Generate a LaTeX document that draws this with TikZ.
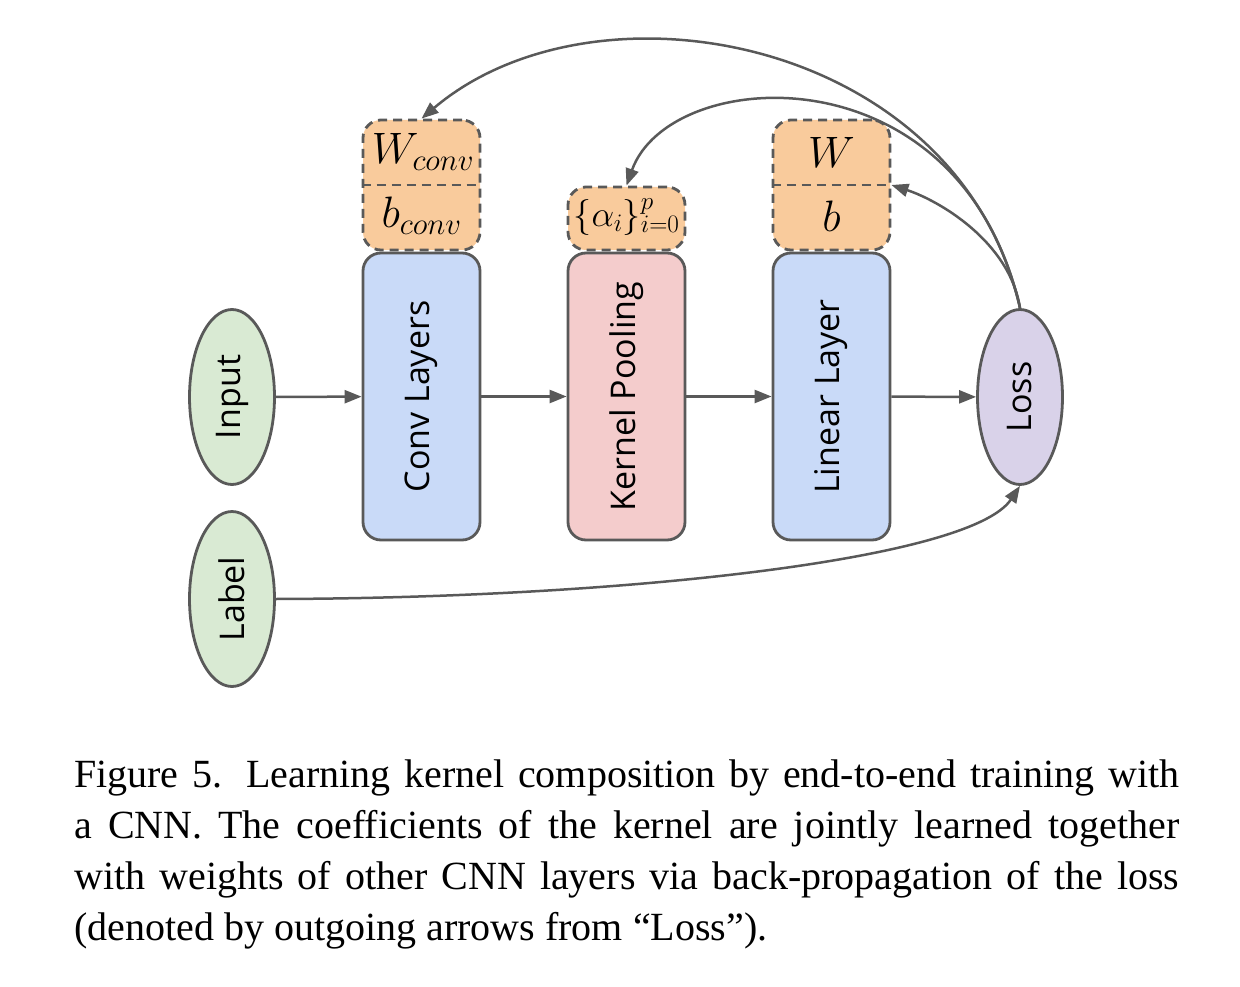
\RequirePackage{fix-cm}
\documentclass[tikz,border=0pt]{standalone}
\usepackage{fontspec}
\setmainfont{Liberation Serif}
\newfontfamily\osans{Open Sans}
\usetikzlibrary{arrows.meta,shapes.geometric}
\definecolor{edge}{HTML}{595959}
\definecolor{blu}{HTML}{C9DAF8}
\definecolor{pnk}{HTML}{F4CCCC}
\definecolor{org}{HTML}{F9CB9C}
\definecolor{grn}{HTML}{D9EAD3}
\definecolor{prp}{HTML}{D9D2E9}
\begin{document}
\begin{tikzpicture}[x=1pt,y=-1pt,
  layer/.style={draw=edge, line width=2.8pt, rounded corners=18pt, minimum width=117pt, minimum height=287pt, inner sep=0pt, font=\osans\fontsize{34}{40}\selectfont},
  ell/.style={ellipse, draw=edge, line width=2.8pt, minimum width=85pt, minimum height=175pt, inner sep=0pt, font=\osans\fontsize{34}{40}\selectfont},
  param/.style={draw=edge, line width=2.8pt, dash pattern=on 9pt off 6pt, rounded corners=18pt, fill=org, minimum width=117pt, inner sep=0pt},
  divider/.style={draw=edge, line width=2.8pt, dash pattern=on 9pt off 6pt},
  mth/.style={inner sep=0pt, font=\fontsize{44}{50}\selectfont},
  arr/.style={draw=edge, line width=2.5pt, -{Triangle[length=17pt,width=13pt]}},
  ]
\useasboundingbox (0,0) rectangle (1240,987);
% main nodes
\node[ell, fill=grn] (input) at (232,397) {\rotatebox{90}{Input}};
\node[ell, fill=grn] (label) at (232,599) {\rotatebox{90}{Label}};
\node[layer, fill=blu] (conv) at (421.5,396.5) {\rotatebox{90}{Conv Layers}};
\node[layer, fill=pnk] (pool) at (626.5,396.5) {\rotatebox{90}{Kernel Pooling}};
\node[layer, fill=blu] (lin) at (831.5,396.5) {\rotatebox{90}{Linear Layer}};
\node[ell, fill=prp] (loss) at (1020,397) {\rotatebox{90}{Loss}};
% parameter boxes
\node[param, minimum height=130pt] (wconv) at (421.5,185) {};
\draw[divider] (wconv.west) -- (wconv.east);
\node[mth] (wconvt) at (423,152) {$W_{conv}$};
\node[mth] (bconvt) at (421.5,216) {$b_{conv}$};
\node[param, minimum height=63pt] (alpha) at (626.5,218.5) {};
\node[inner sep=0pt, font=\fontsize{36}{40}\selectfont] (alphat) at (626.5,217) {$\{\alpha_i\}_{i=0}^{p}$};
\node[param, minimum height=130pt] (wb) at (831.5,185) {};
\draw[divider] (wb.west) -- (wb.east);
\node[mth] (wt) at (831.5,152) {$W$};
\node[mth] (bt) at (831.5,216) {$b$};
% forward arrows
\draw[arr] (input) -- (conv);
\draw[arr] (conv) -- (pool);
\draw[arr] (pool) -- (lin);
\draw[arr] (lin) -- (loss);
\draw[arr] (label.east) .. controls (620,598) and (970.5,560) .. (loss.south);
% backward arrows
\draw[arr] (loss.north) .. controls (958.4,37) and (596.3,-29.5) .. (wconv.north);
\draw[arr] (loss.north) .. controls (960.6,46.75) and (669.4,64.8) .. (alpha.north);
\draw[arr] (loss.north) .. controls (1009.5,240.7) and (937.5,200) .. (wb.east);
% caption
\node[anchor=north west, inner sep=0pt, text width=1105pt, align=justify, font=\fontsize{40}{51}\selectfont] (cap) at (74,760)
{Figure 5. Learning kernel composition by end-to-end training with\linebreak a CNN. The coefficients of the kernel are jointly learned together\linebreak with weights of other CNN layers via back-propagation of the loss\linebreak (denoted by outgoing arrows from ``Loss'').};
\end{tikzpicture}
\end{document}
